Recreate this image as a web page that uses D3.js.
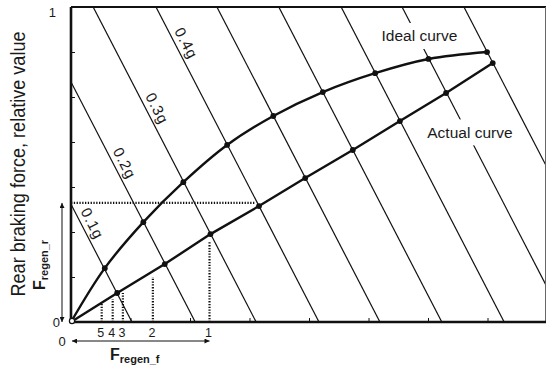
<!DOCTYPE html>
<html><head><meta charset="utf-8">
<script src="https://cdn.jsdelivr.net/npm/d3@7"></script>
<style>
html,body{margin:0;padding:0;background:#fff;}
svg{display:block;}
text{font-family:"Liberation Sans",Arial,Helvetica,sans-serif;fill:#1a1a1a;}
</style></head><body>
<svg id="chart" width="546" height="368"></svg>
<script>
// Constant-deceleration lines: where each meets the front-force axis
const decelLevels = [0.1, 0.2, 0.3, 0.4, 0.5, 0.6, 0.7, 0.8, 0.9];
const decelFrontIntercept = [0.128, 0.261, 0.389, 0.521, 0.649, 0.779, 0.910, 1.038, 1.168];
const decelRearPerFront = 2.92;          // rear force lost per unit of front force along a line
const decelLabels = ["0.1g", "0.2g", "0.3g", "0.4g"];
const decelLabelRear = [0.298, 0.489, 0.663, 0.870];

// Brake force distribution curves (front, rear), one point per deceleration line
const idealFront  = [0, 0.071, 0.152, 0.236, 0.328, 0.425, 0.529, 0.639, 0.751, 0.874];
const idealRear   = [0, 0.171, 0.317, 0.444, 0.562, 0.654, 0.730, 0.790, 0.835, 0.857];
const actualFront = [0, 0.097, 0.197, 0.293, 0.395, 0.492, 0.592, 0.691, 0.788, 0.886];
const actualRear  = [0, 0.092, 0.184, 0.279, 0.368, 0.457, 0.546, 0.638, 0.727, 0.822];
const curveLabels = ["Ideal curve", "Actual curve"];
const curveLabelFront = [0.732, 0.838];
const curveLabelRear  = [0.908, 0.602];

// Regenerative braking levels on the front axle, and the rear regen level
const regenLabels = ["5", "4", "3", "2", "1"];
const regenFront  = [0.0645, 0.0876, 0.109, 0.172, 0.291];
const regenTop    = [0.063, 0.073, 0.092, 0.143, 0.254];
const regenRear = 0.378;
const regenRearEnd = 0.386;

const xTicks = d3.range(0, 9).map(i => i / 8);
const yTicks = d3.range(0, 8).map(i => i / 7);

const svg = d3.select("#chart");
const x = d3.scaleLinear().domain([0, 1]).range([71, 547]);
const y = d3.scaleLinear().domain([0, 1]).range([322, 7]);
const ink = "#111";

svg.append("defs").append("clipPath").attr("id", "plot")
  .append("rect").attr("x", x(0)).attr("y", y(1))
  .attr("width", 546 - x(0)).attr("height", y(0) - y(1));

const marker = svg.select("defs").append("marker")
  .attr("id", "arrow").attr("viewBox", "0 0 10 10")
  .attr("refX", 10).attr("refY", 5)
  .attr("markerWidth", 7).attr("markerHeight", 5)
  .attr("markerUnits", "userSpaceOnUse")
  .attr("orient", "auto-start-reverse");
marker.append("path").attr("d", "M0,0L10,5L0,10Z").attr("fill", ink);

const plot = svg.append("g").attr("clip-path", "url(#plot)");

// deceleration lines
plot.selectAll("line.decel").data(decelFrontIntercept).join("line")
  .attr("class", "decel")
  .attr("x1", d => x(0)).attr("y1", d => y(d * decelRearPerFront))
  .attr("x2", d => x(d)).attr("y2", y(0))
  .attr("stroke", ink).attr("stroke-width", 1.2);

// line direction (pixels), for label rotation
const dirX = x(1) - x(0), dirY = y(0) - y(decelRearPerFront);
const len = Math.hypot(dirX, dirY);
const ux = dirX / len, uy = dirY / len;
const angle = Math.atan2(uy, ux) * 180 / Math.PI;
const nx = uy, ny = -ux; // normal toward upper right

svg.selectAll("text.decel").data(decelLabels).join("text")
  .attr("class", "decel")
  .attr("transform", (d, i) => {
    const r = decelLabelRear[i];
    const f = decelFrontIntercept[i] - r / decelRearPerFront;
    const px = x(f) + nx * 10.5, py = y(r) + ny * 10.5;
    return `translate(${px},${py}) rotate(${angle})`;
  })
  .attr("text-anchor", "middle").attr("dominant-baseline", "central")
  .attr("font-size", 15).attr("letter-spacing", 0.9)
  .text(d => d);

// curve name labels on white boxes
const cl = svg.selectAll("g.clabel").data(curveLabels).join("g")
  .attr("class", "clabel")
  .attr("transform", (d, i) => `translate(${x(curveLabelFront[i])},${y(curveLabelRear[i])})`);
cl.append("text").attr("text-anchor", "middle").attr("dominant-baseline", "central")
  .attr("font-size", 15.5).text(d => d);
cl.each(function () {
  const g = d3.select(this);
  const b = g.select("text").node().getBBox();
  g.insert("rect", "text").attr("x", b.x - 3).attr("y", -13)
    .attr("width", b.width + 6).attr("height", 26).attr("fill", "#fff");
});

// curves
const ideal = idealFront.map((f, i) => [f, idealRear[i]]);
const actual = actualFront.map((f, i) => [f, actualRear[i]]);
svg.append("path").datum(ideal)
  .attr("d", d3.line().x(d => x(d[0])).y(d => y(d[1])).curve(d3.curveCatmullRom.alpha(0.5)))
  .attr("fill", "none").attr("stroke", ink).attr("stroke-width", 2.4);
svg.append("path").datum(actual)
  .attr("d", d3.line().x(d => x(d[0])).y(d => y(d[1])))
  .attr("fill", "none").attr("stroke", ink).attr("stroke-width", 2.4);

svg.selectAll("circle.pt").data(ideal.slice(1).concat(actual.slice(1))).join("circle")
  .attr("class", "pt").attr("cx", d => x(d[0])).attr("cy", d => y(d[1]))
  .attr("r", 2.9).attr("fill", ink);

// dotted regen guides
svg.selectAll("line.regen").data(regenFront).join("line")
  .attr("class", "regen")
  .attr("x1", d => x(d)).attr("x2", d => x(d))
  .attr("y1", y(0)).attr("y2", (d, i) => y(regenTop[i]))
  .attr("stroke", ink).attr("stroke-width", 2.2).attr("stroke-dasharray", "1.3,1.5");
svg.append("line")
  .attr("x1", x(0)).attr("x2", x(regenRearEnd))
  .attr("y1", y(regenRear)).attr("y2", y(regenRear))
  .attr("stroke", ink).attr("stroke-width", 2.2).attr("stroke-dasharray", "1.3,1.5");

svg.selectAll("text.regen").data(regenLabels).join("text")
  .attr("class", "regen")
  .attr("x", (d, i) => x(regenFront[i]) - 1).attr("y", 337)
  .attr("text-anchor", "middle").attr("font-size", 12.5)
  .text(d => d);

// axes with inward ticks
svg.append("g").attr("transform", `translate(${x(0)},0)`)
  .call(d3.axisLeft(y).tickValues(yTicks).tickSizeInner(-4).tickSizeOuter(0).tickFormat(""))
  .call(g => g.select(".domain").remove())
  .call(g => g.selectAll("line").attr("stroke", ink).attr("stroke-width", 1));
svg.append("g").attr("transform", `translate(0,${y(0)})`)
  .call(d3.axisBottom(x).tickValues(xTicks).tickSizeInner(-4).tickSizeOuter(0).tickFormat(""))
  .call(g => g.select(".domain").remove())
  .call(g => g.selectAll("line").attr("stroke", ink).attr("stroke-width", 1));

// frame
svg.append("line").attr("x1", x(0)).attr("x2", 546).attr("y1", y(1)).attr("y2", y(1))
  .attr("stroke", ink).attr("stroke-width", 2);
svg.append("line").attr("x1", 545.5).attr("x2", 545.5).attr("y1", y(1)).attr("y2", y(0))
  .attr("stroke", "#666").attr("stroke-width", 1);
svg.append("line").attr("x1", x(0)).attr("x2", x(0)).attr("y1", y(1)).attr("y2", y(0) + 1)
  .attr("stroke", ink).attr("stroke-width", 2.6);
svg.append("line").attr("x1", x(0) - 1).attr("x2", 546).attr("y1", y(0)).attr("y2", y(0))
  .attr("stroke", ink).attr("stroke-width", 2.6);
svg.append("circle").attr("cx", x(0) + 1).attr("cy", y(0) - 1).attr("r", 2.6)
  .attr("fill", "#fff").attr("stroke", ink).attr("stroke-width", 1.2);

// axis end labels
svg.append("text").attr("x", 56).attr("y", y(1) + 5).attr("text-anchor", "end")
  .attr("dominant-baseline", "central").attr("font-size", 13).text("1");
svg.append("text").attr("x", 60).attr("y", y(0)).attr("text-anchor", "end")
  .attr("dominant-baseline", "central").attr("font-size", 13).text("0");
svg.append("text").attr("x", 62).attr("y", 341).attr("text-anchor", "middle")
  .attr("dominant-baseline", "central").attr("font-size", 13).text("0");

// regen arrows
svg.append("line").attr("x1", 62).attr("x2", 62)
  .attr("y1", y(regenRear)).attr("y2", y(0))
  .attr("stroke", ink).attr("stroke-width", 1)
  .attr("marker-start", "url(#arrow)").attr("marker-end", "url(#arrow)");
svg.append("line").attr("x1", x(0) + 1).attr("x2", x(regenFront[4]))
  .attr("y1", 341).attr("y2", 341)
  .attr("stroke", ink).attr("stroke-width", 1)
  .attr("marker-start", "url(#arrow)").attr("marker-end", "url(#arrow)");

// F_regen labels
const ff = svg.append("text").attr("x", 110).attr("y", 360).attr("font-weight", "bold");
ff.append("tspan").attr("font-size", 16).text("F");
ff.append("tspan").attr("font-size", 11).attr("dy", 3).text("regen_f");
const fr = svg.append("text").attr("transform", "translate(45,290) rotate(-90)").attr("font-weight", "bold");
fr.append("tspan").attr("font-size", 16).text("F");
fr.append("tspan").attr("font-size", 11).attr("dy", 3).text("regen_r");

// y-axis title
svg.append("text").attr("transform", "translate(25,164) rotate(-90)")
  .attr("text-anchor", "middle").attr("font-size", 20)
  .attr("textLength", 265).attr("lengthAdjust", "spacingAndGlyphs")
  .text("Rear braking force, relative value");
</script>
</body></html>
